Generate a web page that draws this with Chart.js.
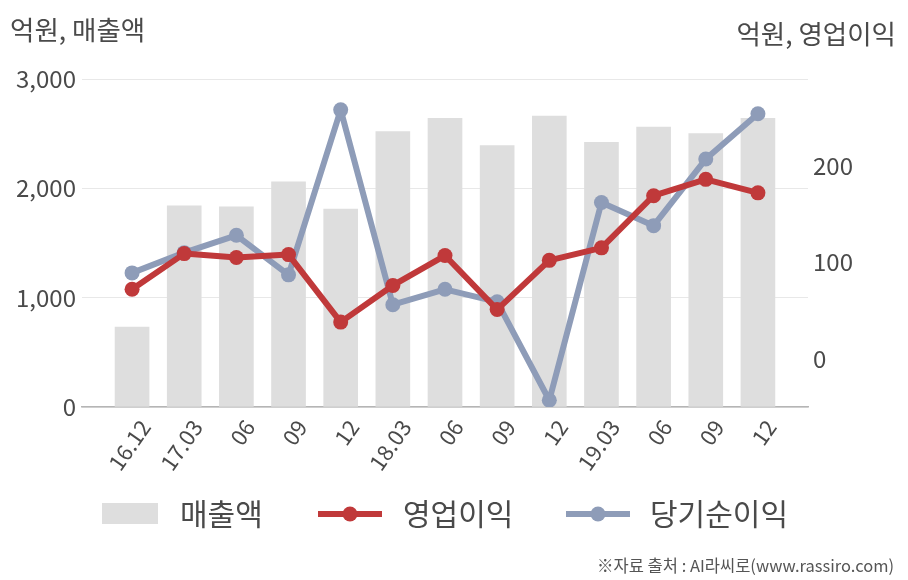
<!DOCTYPE html>
<html>
<head>
<meta charset="utf-8">
<script src="https://cdn.jsdelivr.net/npm/chart.js@4.4.1/dist/chart.umd.min.js"></script>
<style>
  html, body { margin: 0; padding: 0; background: #fff; }
  #wrap { width: 908px; height: 580px; position: relative; }
</style>
</head>
<body>
<div id="wrap"><canvas id="chart" width="908" height="580"></canvas></div>
<script>
"use strict";

// Data
const periods = ['16.12', '17.03', '06', '09', '12', '18.03', '06', '09', '12', '19.03', '06', '09', '12'];
const sales = [730, 1840, 1830, 2060, 1810, 2520, 2640, 2390, 2660, 2420, 2560, 2500, 2640];
const operatingProfit = [72, 109, 105, 108, 38, 76, 107, 51, 102, 115, 169, 186, 172];
const netIncome = [89, 110, 128, 87, 258, 56, 72, 59, -43, 162, 138, 207, 254];
const salesTicks = [0, 1000, 2000, 3000];
const profitTicks = [0, 100, 200];

const FONT = '"Noto Sans CJK KR", "Noto Sans", sans-serif';
const TEXT = '#4a4a4a';
const BAR_COLOR = '#dedede';
const RED = '#c0393a';
const BLUE = '#8e9cb8';

const toPoints = values => values.map((v, i) => ({ x: i, y: v }));

/**
 * Titles, legend and source note
 */
const decorations = {
    id: 'decorations',
    afterDraw(chart) {
        const ctx = chart.ctx;
        ctx.save();
        ctx.fillStyle = TEXT;
        ctx.textBaseline = 'middle';

        ctx.font = '26.5px ' + FONT;
        ctx.textAlign = 'left';
        ctx.fillText('억원, 매출액', 10, 30);
        ctx.textAlign = 'right';
        ctx.fillText('억원, 영업이익', 896, 34);

        // Legend
        const ly = 514;
        ctx.fillStyle = BAR_COLOR;
        ctx.fillRect(102, 503, 56, 21);

        [[318, RED], [566, BLUE]].forEach(([x, color]) => {
            ctx.strokeStyle = color;
            ctx.lineWidth = 6;
            ctx.beginPath();
            ctx.moveTo(x, ly);
            ctx.lineTo(x + 64, ly);
            ctx.stroke();
            ctx.fillStyle = color;
            ctx.beginPath();
            ctx.arc(x + 32, ly, 7.5, 0, Math.PI * 2);
            ctx.fill();
        });

        ctx.fillStyle = TEXT;
        ctx.textAlign = 'left';
        ctx.font = '30px ' + FONT;
        ctx.fillText('매출액', 180, ly);
        ctx.fillText('영업이익', 403, ly);
        ctx.fillText('당기순이익', 650, ly);

        // Source
        ctx.font = '16.5px ' + FONT;
        ctx.textAlign = 'right';
        ctx.fillStyle = '#555';
        ctx.fillText('※자료 출처 : AI라씨로(www.rassiro.com)', 894, 566);
        ctx.restore();
    }
};

new Chart(document.getElementById('chart').getContext('2d'), {
    type: 'bar',
    data: {
        datasets: [
            {
                type: 'line',
                label: '영업이익',
                data: toPoints(operatingProfit),
                yAxisID: 'y1',
                borderColor: RED,
                backgroundColor: RED,
                borderWidth: 6,
                borderJoinStyle: 'round',
                pointRadius: 7.5,
                pointBackgroundColor: RED,
                pointBorderWidth: 0,
                tension: 0,
                order: 1
            },
            {
                type: 'line',
                label: '당기순이익',
                data: toPoints(netIncome),
                yAxisID: 'y1',
                borderColor: BLUE,
                backgroundColor: BLUE,
                borderWidth: 6,
                borderJoinStyle: 'round',
                pointRadius: 7.5,
                pointBackgroundColor: BLUE,
                pointBorderWidth: 0,
                tension: 0,
                order: 2
            },
            {
                label: '매출액',
                data: toPoints(sales),
                yAxisID: 'y',
                backgroundColor: BAR_COLOR,
                barThickness: 34,
                order: 3
            }
        ]
    },
    options: {
        responsive: false,
        animation: false,
        devicePixelRatio: 1,
        layout: { padding: { top: 79, left: 0, right: 0, bottom: 0 } },
        plugins: {
            legend: { display: false },
            tooltip: { enabled: false }
        },
        scales: {
            x: {
                type: 'linear',
                offset: false,
                min: -0.96,
                max: 12.96,
                afterBuildTicks: axis => {
                    axis.ticks = periods.map((_, i) => ({ value: i }));
                },
                afterFit: axis => { axis.height = 173; },
                grid: { display: false },
                border: { display: true, color: '#b5b5b5', width: 1.5 },
                ticks: {
                    callback: value => periods[value],
                    minRotation: 55,
                    maxRotation: 55,
                    autoSkip: false,
                    padding: 0,
                    labelOffset: 13,
                    color: TEXT,
                    font: { family: FONT, size: 22 }
                }
            },
            y: {
                position: 'left',
                min: 0,
                max: 3000,
                afterBuildTicks: axis => {
                    axis.ticks = salesTicks.map(v => ({ value: v }));
                },
                afterFit: axis => { axis.width = 82; },
                grid: { color: '#e8e8e8', lineWidth: 1, drawTicks: false },
                border: { display: false },
                ticks: {
                    callback: value => value.toLocaleString('en-US'),
                    padding: 6,
                    color: TEXT,
                    font: { family: FONT, size: 24 }
                }
            },
            y1: {
                position: 'right',
                min: -50,
                max: 290,
                afterBuildTicks: axis => {
                    axis.ticks = profitTicks.map(v => ({ value: v }));
                },
                afterFit: axis => { axis.width = 100; },
                grid: { display: false, drawTicks: false },
                border: { display: false },
                ticks: {
                    padding: 5,
                    color: TEXT,
                    font: { family: FONT, size: 24 }
                }
            }
        }
    },
    plugins: [decorations]
});
</script>
</body>
</html>
